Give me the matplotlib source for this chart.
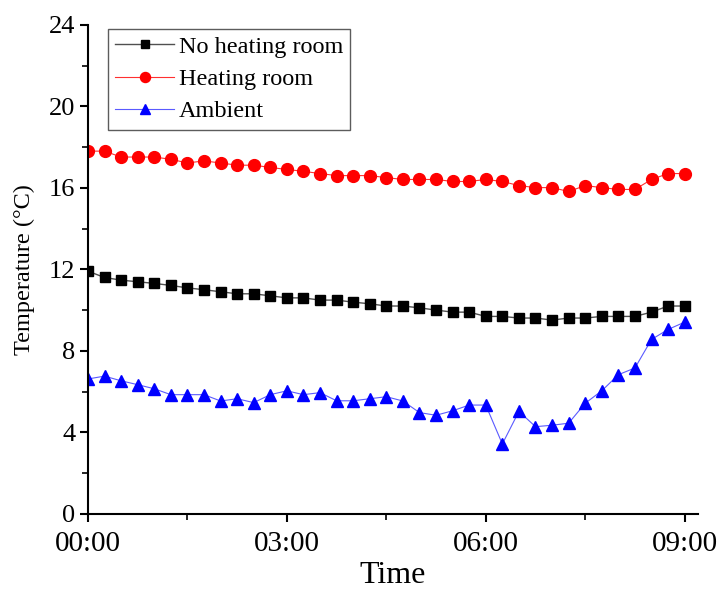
import matplotlib
matplotlib.use("Agg")
import matplotlib.pyplot as plt
from matplotlib.ticker import MultipleLocator, FixedLocator

# time in hours since 00:00, one marker every 15 minutes
time_h = [i * 0.25 for i in range(37)]

no_heating = [11.91, 11.60, 11.47, 11.39, 11.31, 11.21, 11.09, 11.00, 10.90, 10.80,
              10.80, 10.70, 10.60, 10.60, 10.49, 10.49, 10.39, 10.31, 10.20, 10.20,
              10.11, 10.00, 9.90, 9.90, 9.69, 9.69, 9.61, 9.61, 9.51, 9.61,
              9.61, 9.69, 9.69, 9.69, 9.90, 10.20, 10.20]

heating = [17.80, 17.80, 17.51, 17.51, 17.51, 17.40, 17.22, 17.32, 17.22, 17.11,
           17.11, 17.00, 16.90, 16.81, 16.70, 16.60, 16.60, 16.60, 16.50, 16.41,
           16.41, 16.41, 16.31, 16.31, 16.41, 16.31, 16.11, 16.01, 16.01, 15.82,
           16.11, 16.01, 15.92, 15.92, 16.41, 16.70, 16.70]

ambient = [6.62, 6.76, 6.53, 6.34, 6.14, 5.85, 5.85, 5.85, 5.54, 5.65,
           5.46, 5.85, 6.04, 5.85, 5.95, 5.55, 5.55, 5.65, 5.75, 5.54,
           4.97, 4.84, 5.06, 5.34, 5.34, 3.43, 5.03, 4.28, 4.35, 4.45,
           5.43, 6.04, 6.83, 7.16, 8.56, 9.05, 9.41]

xticks = [0, 3, 6, 9]
xtick_labels = ["00:00", "03:00", "06:00", "09:00"]
yticks = [0, 4, 8, 12, 16, 20, 24]

plt.rcParams['font.family'] = ['Liberation Serif', 'DejaVu Serif']
plt.rcParams['mathtext.fontset'] = 'stix'

fig = plt.figure(figsize=(7.21, 5.90), dpi=100)
ax = fig.add_axes([0.122, 0.129, 0.846, 0.829])

ax.plot(time_h, no_heating, color='#505050', lw=1.0, marker='s', ms=7.5,
        mfc='black', mec='black', label='No heating room')
ax.plot(time_h, heating, color='#ff3030', lw=0.8, marker='o', ms=8.5,
        mfc='#ff0000', mec='#ff0000', label='Heating room')
ax.plot(time_h, ambient, color='#5a5aff', lw=0.8, marker='^', ms=9,
        mfc='#0000ff', mec='#0000ff', label='Ambient')

ax.set_xlim(0, 9.2)
ax.set_ylim(0, 24)
ax.set_xticks(xticks)
ax.set_xticklabels(xtick_labels)
ax.xaxis.set_minor_locator(FixedLocator([1.5, 4.5, 7.5]))
ax.set_yticks(yticks)
ax.yaxis.set_minor_locator(MultipleLocator(2))

for s in ['top', 'right']:
    ax.spines[s].set_visible(False)
for s in ['left', 'bottom']:
    ax.spines[s].set_linewidth(1.5)

ax.tick_params(axis='both', which='major', direction='out', length=6, width=1.5)
ax.tick_params(axis='both', which='minor', direction='out', length=4, width=1.2)
ax.tick_params(axis='x', which='major', labelsize=21, pad=6)
ax.tick_params(axis='y', which='major', labelsize=19, pad=3)

ax.set_xlabel('Time', fontsize=23, labelpad=3)
ax.set_ylabel('Temperature (°C)', fontsize=17.5, labelpad=10)

leg = ax.legend(loc='upper left', bbox_to_anchor=(0.033, 0.992), fontsize=17.5,
                frameon=True, fancybox=False, edgecolor='#333333',
                handlelength=2.4, handletextpad=0.2, labelspacing=0.42,
                borderpad=0.3, borderaxespad=0.0, markerscale=0.85)
leg.get_frame().set_linewidth(1.0)

fig.savefig('out.png', dpi=100)
